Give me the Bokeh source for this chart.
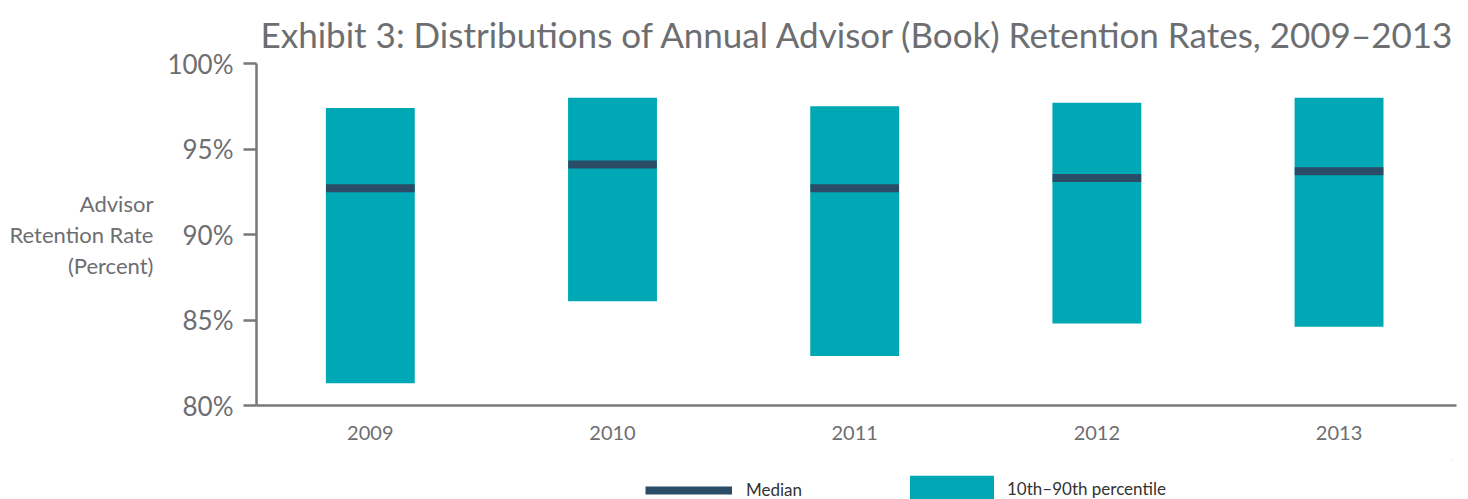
from bokeh.plotting import figure
from bokeh.layouts import column
from bokeh.models import Range1d, FixedTicker, Legend, LegendItem, ColumnDataSource, Title
from bokeh.embed import file_html
from bokeh.resources import INLINE

years = [2009, 2010, 2011, 2012, 2013]
p10 = [81.3, 86.1, 82.9, 84.8, 84.6]
p90 = [97.4, 98.0, 97.5, 97.7, 98.0]
median = [92.7, 94.1, 92.7, 93.3, 93.7]
y_ticks = [80, 85, 90, 95, 100]
title_text = "Exhibit 3: Distributions of Annual Advisor (Book) Retention Rates, 2009\u20132013"
y_label_lines = ["Advisor", "Retention Rate", "(Percent)"]
legend_labels = ["Median", "10th\u201390th percentile"]

TEAL = "#00a8b5"
NAVY = "#2b4c66"
GRAY = "#77787b"
TEXT = "#6d6e71"
FONT = "Lato"

src = ColumnDataSource(dict(x=years, lo=p10, hi=p90, med=median,
                            x0=[y - 0.183 for y in years], x1=[y + 0.183 for y in years]))

p = figure(frame_width=1200, frame_height=342, output_backend="svg", toolbar_location=None,
           x_range=Range1d(2008.53, 2013.485), y_range=Range1d(80, 100),
           min_border_left=256, min_border_right=8, min_border_top=63, min_border_bottom=55,
           title=None)

p.add_layout(Title(text=title_text, text_font=FONT, text_font_size="35px",
                   text_font_style="normal", text_color=TEXT, align="left", offset=4,
                   text_line_height=0.9, standoff=17), "above")

p.vbar(x="x", bottom="lo", top="hi", width=0.367, source=src, fill_color=TEAL, line_color=None)
p.segment(x0="x0", x1="x1", y0="med", y1="med", source=src, line_color=NAVY, line_width=8)

p.grid.visible = False
p.outline_line_color = None
p.background_fill_color = "white"
p.border_fill_color = "white"

p.yaxis.ticker = FixedTicker(ticks=y_ticks)
p.yaxis.major_label_overrides = {t: f"{t}%" for t in y_ticks}
p.yaxis.major_label_text_font = FONT
p.yaxis.major_label_text_font_size = "26px"
p.yaxis.major_label_text_color = TEXT
p.yaxis.major_tick_out = 13
p.yaxis.major_tick_in = 0
p.yaxis.major_tick_line_color = GRAY
p.yaxis.major_tick_line_width = 2.5
p.yaxis.minor_tick_line_color = None
p.yaxis.axis_line_color = GRAY
p.yaxis.axis_line_width = 2.5
p.yaxis.major_label_standoff = 10
p.yaxis.axis_label = "\n".join(y_label_lines)
p.yaxis.axis_label_orientation = "horizontal"
p.yaxis.axis_label_text_align = "right"
p.yaxis.axis_label_text_font = FONT
p.yaxis.axis_label_text_font_size = "22px"
p.yaxis.axis_label_text_font_style = "normal"
p.yaxis.axis_label_text_color = TEXT
p.yaxis.axis_label_text_line_height = 1.15
p.yaxis.axis_label_standoff = 11

p.xaxis.ticker = FixedTicker(ticks=years)
p.xaxis.major_label_text_font = FONT
p.xaxis.major_label_text_font_size = "20px"
p.xaxis.major_label_text_color = TEXT
p.xaxis.major_tick_line_color = None
p.xaxis.minor_tick_line_color = None
p.xaxis.axis_line_color = GRAY
p.xaxis.axis_line_width = 2.5
p.xaxis.major_label_standoff = 14

# legend strip below the chart (proxy renderers use the same data, kept off its visible range)
lg = figure(width=1460, height=39, output_backend="svg", toolbar_location=None,
            x_range=Range1d(0, 1), y_range=Range1d(0, 1),
            min_border=0, min_border_left=0, min_border_right=0, min_border_top=0, min_border_bottom=0)
lg.axis.visible = False
lg.grid.visible = False
lg.outline_line_color = None
lg.border_fill_color = "white"
r_med = lg.segment(x0="x0", x1="x1", y0="med", y1="med", source=src, line_color=NAVY, line_width=8)
r_box = lg.vbar(x="x", bottom="lo", top="hi", width=0.367, source=src, fill_color=TEAL, line_color=None)

common = dict(orientation="horizontal", label_text_font=FONT, label_text_font_size="17px",
              label_text_color="#333333", border_line_color=None, background_fill_alpha=0,
              margin=0, padding=4)
leg_med = Legend(items=[LegendItem(label=legend_labels[0], renderers=[r_med])],
                 location=(389, -1), glyph_width=87, glyph_height=20, label_standoff=14, **common)
leg_box = Legend(items=[LegendItem(label=legend_labels[1], renderers=[r_box])],
                 location=(643, -5), glyph_width=105, glyph_height=32, label_standoff=3, **common)
lg.add_layout(leg_med, "center")
lg.add_layout(leg_box, "center")

open("out.html", "w").write(file_html(column(p, lg, spacing=0), INLINE))
